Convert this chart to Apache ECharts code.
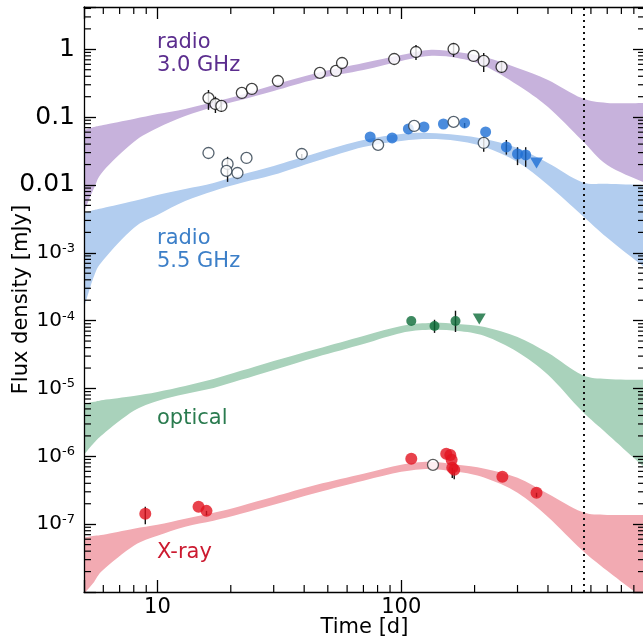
<!DOCTYPE html>
<html><head><meta charset="utf-8">
<script src="https://cdn.jsdelivr.net/npm/echarts@6/dist/echarts.min.js"></script>
<style>html,body{margin:0;padding:0;background:#fff}#c{width:643px;height:641px}</style>
</head><body><div id="c"></div>
<script>
// ---------- data ----------
const bandT = [5,5.5,6,8,10,13,17,22,30,45,70,100,130,170,220,300,400,550,700,1000];
const r3Upper = [0.0647,0.0716,0.0766,0.094,0.111,0.132,0.167,0.212,0.298,0.448,0.628,0.824,0.977,0.912,0.771,0.530,0.353,0.191,0.162,0.162];
const r3Lower = [0.0040,0.00904,0.0161,0.043,0.069,0.104,0.141,0.179,0.243,0.365,0.495,0.673,0.796,0.745,0.568,0.298,0.141,0.046,0.0197,0.0107];
const r5Upper = [0.00387,0.00428,0.00458,0.00581,0.00713,0.00873,0.0107,0.0141,0.0191,0.0296,0.0460,0.0565,0.0585,0.0546,0.0476,0.0351,0.0211,0.0111,0.0104,0.0100];
const r5Lower = [0.000154,0.000456,0.000785,0.00233,0.00361,0.00581,0.00817,0.0107,0.0141,0.0226,0.0363,0.0446,0.0476,0.0446,0.0363,0.0218,0.0100,0.00361,0.00166,0.000598];
const optUpper = [5.93e-6,6.35e-6,6.79e-6,7.78e-6,8.91e-6,1.09e-5,1.38e-5,1.82e-5,2.55e-5,3.83e-5,5.96e-5,8.36e-5,9.26e-5,8.95e-5,8.09e-5,5.75e-5,3.35e-5,1.59e-5,1.38e-5,1.34e-5];
const optLower = [1.05e-6,1.58e-6,2.14e-6,4.68e-6,6.56e-6,8.32e-6,1.02e-5,1.34e-5,1.88e-5,2.92e-5,4.54e-5,6.59e-5,7.31e-5,7.06e-5,5.96e-5,3.46e-5,1.59e-5,4.68e-6,2.14e-6,6.76e-7];
const xrUpper = [6.30e-8,6.73e-8,6.97e-8,8.55e-8,9.77e-8,1.20e-7,1.47e-7,1.86e-7,2.53e-7,3.80e-7,5.52e-7,7.50e-7,8.30e-7,7.50e-7,6.55e-7,4.82e-7,2.80e-7,1.52e-7,1.37e-7,1.37e-7];
const xrLower = [9.4e-9,1.41e-8,2.12e-8,4.80e-8,6.73e-8,9.14e-8,1.12e-7,1.42e-7,1.93e-7,2.90e-7,4.36e-7,5.90e-7,6.53e-7,5.90e-7,4.82e-7,2.90e-7,1.28e-7,4.19e-8,2.05e-8,7.7e-9];

// radio 3.0 GHz (open circles)
const r3T  = [16.2,17.3,18.3,22.2,24.4,31.2,46.4,54.0,57.2,93.6,115,164,198,218,258];
const r3F  = [0.191,0.156,0.146,0.227,0.260,0.341,0.448,0.479,0.628,0.719,0.912,1.01,0.797,0.673,0.549];
const r3Lo = [0.128,0.115,0.119,null,null,null,null,null,null,null,0.695,0.77,null,0.463,0.45];
const r3Hi = [0.251,0.200,0.175,null,null,null,null,null,null,null,1.16,1.24,null,0.88,0.67];
// radio 5.5 GHz open circles
const r5oT  = [16.2,19.4,19.2,21.3,23.2,39.1,80.4,113,164,218];
const r5oF  = [0.0296,0.0204,0.0161,0.0150,0.0250,0.0286,0.0389,0.0741,0.0849,0.0416];
const r5oLo = [null,0.0111,null,null,null,0.025,null,null,null,0.031];
const r5oHi = [null,0.026,null,null,null,null,null,null,null,0.050];
// radio 5.5 GHz filled circles
const r5fT  = [74.6,91.8,107,124,149,182,222,270,300,324];
const r5fF  = [0.0510,0.0493,0.0670,0.0716,0.0792,0.0820,0.0604,0.0363,0.0286,0.0277];
const r5fLo = [null,null,null,null,null,0.070,null,0.028,0.0196,0.0185];
const r5fHi = [null,null,null,null,null,null,null,0.046,0.036,0.036];
const r5LimT = [359];
const r5LimF = [0.0211];
// optical
const optT  = [110,137,167];
const optF  = [9.9e-5,8.36e-5,9.9e-5];
const optLo = [null,6.6e-5,6.8e-5];
const optHi = [null,1.03e-4,1.4e-4];
const optLimT = [209];
const optLimF = [1.06e-4];
// X-ray
const xrT  = [8.92,14.75,15.9,110,153,159,161,162,165,260,359];
const xrF  = [1.42e-7,1.80e-7,1.57e-7,9.18e-7,1.09e-6,1.05e-6,8.87e-7,6.76e-7,6.32e-7,4.99e-7,2.90e-7];
const xrLo = [1.0e-7,null,1.35e-7,null,null,null,null,4.8e-7,4.6e-7,null,2.5e-7];
const xrHi = [1.8e-7,null,null,null,null,null,null,null,null,null,null];
const xrOpenT = [135];
const xrOpenF = [7.49e-7];

const vLineT = 560;
const xTickLabels = {10:'10', 100:'100'};
const yTickLabels = {0:'1', '-1':'0.1', '-2':'0.01'};

// ---------- styles ----------
const FONT = 'DejaVu Sans';
const C = {
  r3Band:'#c7b2dc', r3Text:'#5b2d8e',
  r5Band:'#b2cdef', r5Text:'#3c7fc8', r5Pt:'#1e6fd4',
  optBand:'#a9d2bb', optText:'#2a7b4f', optPt:'#0d6b38',
  xrBand:'#f2aab2', xrText:'#cc1a30', xrPt:'#e2131f'
};
const XMIN=5, XMAX=1000, YMIN=1e-8, YMAX=4.2;

function catmull(pts){
  let d='';
  for(let i=0;i<pts.length-1;i++){
    const p0=pts[i-1]||pts[i], p1=pts[i], p2=pts[i+1], p3=pts[i+2]||pts[i+1];
    const c1=[p1[0]+(p2[0]-p0[0])/6, p1[1]+(p2[1]-p0[1])/6];
    const c2=[p2[0]-(p3[0]-p1[0])/6, p2[1]-(p3[1]-p1[1])/6];
    d+=' C'+c1[0]+' '+c1[1]+' '+c2[0]+' '+c2[1]+' '+p2[0]+' '+p2[1];
  }
  return d;
}
function bandSeries(lower, upper, color){
  return {
    type:'custom', clip:true, z:1, silent:true,
    data: bandT.map((t,i)=>[t, lower[i], upper[i]]),
    encode:{x:0, y:[1,2]},
    renderItem(params, api){
      if(params.dataIndex!==0) return null;
      const up = bandT.map((t,i)=>api.coord([t, upper[i]]));
      const lo = bandT.map((t,i)=>api.coord([t, lower[i]])).reverse();
      const d = 'M'+up[0][0]+' '+up[0][1]+catmull(up)+' L'+lo[0][0]+' '+lo[0][1]+catmull(lo)+' Z';
      return {type:'path', shape:{pathData:d}, style:{fill:color, stroke:null}};
    }
  };
}
function errSeries(T, lo, hi, F){
  const data=[];
  T.forEach((t,i)=>{ if(lo[i]!=null || hi[i]!=null) data.push([t, lo[i]!=null?lo[i]:F[i], hi[i]!=null?hi[i]:F[i]]); });
  return {
    type:'custom', z:3, silent:true, data, encode:{x:0,y:[1,2]},
    renderItem(params, api){
      const a=api.coord([api.value(0), api.value(1)]), b=api.coord([api.value(0), api.value(2)]);
      return {type:'line', shape:{x1:a[0],y1:a[1],x2:b[0],y2:b[1]}, style:{stroke:'#111', lineWidth:1.4}};
    }
  };
}
function pts(T, F, opt){
  return Object.assign({
    type:'scatter', z:4, silent:true, symbol:'circle', symbolSize:11,
    data: T.map((t,i)=>[t,F[i]])
  }, opt);
}
const openStyle = {color:'#fff', borderColor:'#111', borderWidth:1.3};

const minorX=[], minorY=[];
[1,10,100].forEach(d=>{ for(let k=2;k<=9;k++){ const v=k*d; if(v>XMIN && v<XMAX) minorX.push(v);} });
for(let n=-8;n<=0;n++){ for(let k=2;k<=9;k++){ const v=k*Math.pow(10,n); if(v<YMAX) minorY.push(v);} }

const tickSeries = {
  type:'custom', z:12, silent:true, data:[[XMIN,YMIN]], encode:{x:0,y:1},
  renderItem(params, api){
    const cs=params.coordSys, x0=cs.x, x1=cs.x+cs.width, y0=cs.y, y1=cs.y+cs.height, L=7;
    const ch=[], st={stroke:'#000', lineWidth:1.2};
    minorX.forEach(v=>{ const x=api.coord([v,1])[0];
      ch.push({type:'line',shape:{x1:x,y1:y1,x2:x,y2:y1-L},style:st});
      ch.push({type:'line',shape:{x1:x,y1:y0,x2:x,y2:y0+L},style:st}); });
    minorY.forEach(v=>{ const y=api.coord([10,v])[1];
      ch.push({type:'line',shape:{x1:x0,y1:y,x2:x0+L,y2:y},style:st});
      ch.push({type:'line',shape:{x1:x1,y1:y,x2:x1-L,y2:y},style:st}); });
    return {type:'group', children:ch};
  }
};

const axisLine = {show:true, lineStyle:{color:'#000', width:1.3}};
const majorTick = {show:true, inside:true, length:12, lineStyle:{color:'#000', width:1.3}};

const option = {
  animation:false,
  backgroundColor:'#fff',
  grid:{left:84, right:-2, top:7, bottom:49, containLabel:false, outerBoundsMode:'none'},
  xAxis:[
    {type:'log', logBase:10, min:XMIN, max:XMAX, position:'bottom', z:10,
     axisLine, axisTick:majorTick, splitLine:{show:false},
     axisLabel:{fontFamily:FONT, fontSize:21, color:'#000', margin:5,
       formatter:v=>{ const k=Math.round(v); return (Math.abs(v-k)<1e-6 && xTickLabels[k]) ? xTickLabels[k] : ''; }},
     name:'Time [d]', nameLocation:'middle', nameGap:25, nameMoveOverlap:false,
     nameTextStyle:{fontFamily:FONT, fontSize:21, color:'#000', verticalAlign:'top'}},
    {type:'log', logBase:10, min:XMIN, max:XMAX, position:'top', z:10,
     axisLine, axisTick:majorTick, axisLabel:{show:false}, splitLine:{show:false}}
  ],
  yAxis:[
    {type:'log', logBase:10, min:YMIN, max:YMAX, position:'left', z:10,
     axisLine, axisTick:majorTick, splitLine:{show:false},
     axisLabel:{fontFamily:FONT, color:'#000', margin:9,
       formatter:v=>{ const lg=Math.log10(v), e=Math.round(lg);
         if(Math.abs(lg-e)>1e-6 || e<-7 || e>0) return '';
         if(yTickLabels[e]!==undefined) return '{d|'+yTickLabels[e]+'}';
         return '{b|10}{s|-'+(-e)+'}'; },
       rich:{ d:{fontFamily:FONT, fontSize:25, color:'#000', lineHeight:28},
              b:{fontFamily:FONT, fontSize:20, color:'#000', lineHeight:22},
              s:{fontFamily:FONT, fontSize:13, color:'#000', verticalAlign:'top', lineHeight:13} }},
     name:'Flux density [mJy]', nameLocation:'middle', nameGap:52, nameMoveOverlap:false,
     nameTextStyle:{fontFamily:FONT, fontSize:21, color:'#000'}},
    {type:'log', logBase:10, min:YMIN, max:YMAX, position:'right', z:10,
     axisLine, axisTick:majorTick, axisLabel:{show:false}, splitLine:{show:false}}
  ],
  graphic:[
    {type:'text', x:157, y:43, z:20, style:{text:'radio', font:'21px "'+FONT+'"', fill:C.r3Text, verticalAlign:'middle'}},
    {type:'text', x:157, y:66, z:20, style:{text:'3.0 GHz', font:'21px "'+FONT+'"', fill:C.r3Text, verticalAlign:'middle'}},
    {type:'text', x:157, y:239, z:20, style:{text:'radio', font:'21px "'+FONT+'"', fill:C.r5Text, verticalAlign:'middle'}},
    {type:'text', x:157, y:262, z:20, style:{text:'5.5 GHz', font:'21px "'+FONT+'"', fill:C.r5Text, verticalAlign:'middle'}},
    {type:'text', x:157, y:419, z:20, style:{text:'optical', font:'21px "'+FONT+'"', fill:C.optText, verticalAlign:'middle'}},
    {type:'text', x:157, y:553, z:20, style:{text:'X-ray', font:'21px "'+FONT+'"', fill:C.xrText, verticalAlign:'middle'}}
  ],
  series:[
    bandSeries(r3Lower, r3Upper, C.r3Band),
    bandSeries(r5Lower, r5Upper, C.r5Band),
    bandSeries(optLower, optUpper, C.optBand),
    bandSeries(xrLower, xrUpper, C.xrBand),
    {type:'scatter', data:[], z:2, markLine:{silent:true, symbol:'none', label:{show:false},
      lineStyle:{color:'#111', type:[2,4], width:2}, data:[{xAxis:vLineT}]}},
    errSeries(r3T, r3Lo, r3Hi, r3F),
    errSeries(r5oT, r5oLo, r5oHi, r5oF),
    errSeries(r5fT, r5fLo, r5fHi, r5fF),
    errSeries(optT, optLo, optHi, optF),
    errSeries(xrT, xrLo, xrHi, xrF),
    pts(r3T, r3F, {itemStyle:openStyle}),
    pts(r5fT, r5fF, {itemStyle:{color:C.r5Pt}}),
    pts(r5oT, r5oF, {itemStyle:{color:'#fff', borderColor:'#2b3b4a', borderWidth:1.3}}),
    pts(r5LimT, r5LimF, {symbol:'triangle', symbolRotate:180, symbolSize:[13,11], itemStyle:{color:C.r5Pt}}),
    pts(optT, optF, {symbolSize:10, itemStyle:{color:C.optPt}}),
    pts(optLimT, optLimF, {symbol:'triangle', symbolRotate:180, symbolSize:[13,11], itemStyle:{color:C.optPt}}),
    pts(xrT, xrF, {symbolSize:12, itemStyle:{color:C.xrPt}}),
    pts(xrOpenT, xrOpenF, {itemStyle:{color:'#fff', borderColor:'#333', borderWidth:1.3}}),
    tickSeries
  ]
};
const chart = echarts.init(document.getElementById('c'), null, {renderer:'canvas'});
chart.setOption(option);
</script>
</body></html>
